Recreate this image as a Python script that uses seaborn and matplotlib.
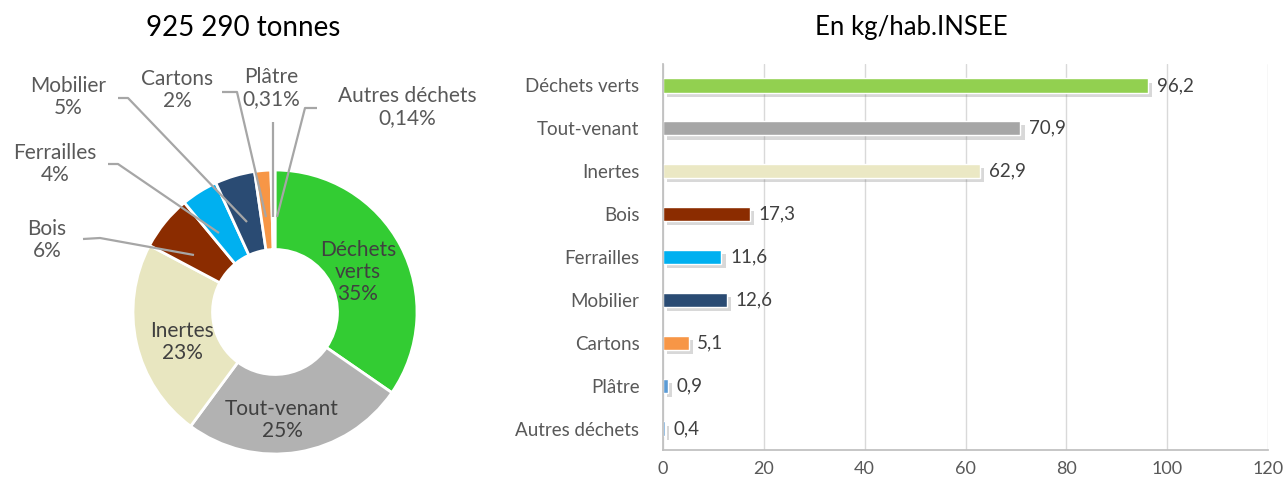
import matplotlib
matplotlib.use("Agg")
import matplotlib.pyplot as plt
import matplotlib.patheffects as pe
import seaborn as sns
import pandas as pd

# ---- data ----
categories = ["Déchets verts", "Tout-venant", "Inertes", "Bois", "Ferrailles",
              "Mobilier", "Cartons", "Plâtre", "Autres déchets"]
kg_per_hab = [96.2, 70.9, 62.9, 17.3, 11.6, 12.6, 5.1, 0.9, 0.4]
pct_labels = ["35%", "25%", "23%", "6%", "4%", "5%", "2%", "0,31%", "0,14%"]
value_labels = ["96,2", "70,9", "62,9", "17,3", "11,6", "12,6", "5,1", "0,9", "0,4"]
x_ticks = [0, 20, 40, 60, 80, 100, 120]
title_left = "925 290 tonnes"
title_right = "En kg/hab.INSEE"

pie_colors = ["#33CC33", "#B2B2B2", "#E8E6C0", "#8B2C00", "#00B0F0",
              "#2A4B73", "#F79646", "#D9D9D9", "#BFBFBF"]
bar_colors = ["#92D050", "#A6A6A6", "#EBE8C4", "#8B2C00", "#00B0F0",
              "#2A4B73", "#F79646", "#5B9BD5", "#5B9BD5"]

sns.set_theme(style="white")
plt.rcParams["font.family"] = ["Lato", "DejaVu Sans"]

W, H = 1284, 482
fig = plt.figure(figsize=(W / 100, H / 100), dpi=100)

def px_axes(cx, cy, r):
    return [(cx - r) / W, (H - cy - r) / H, 2 * r / W, 2 * r / H]

# ---- donut ----
cx, cy, R = 275, 312, 142
axp = fig.add_axes(px_axes(cx, cy, R))
wedges, _ = axp.pie(kg_per_hab, colors=pie_colors, startangle=90, counterclock=False,
                    radius=1.0,
                    wedgeprops=dict(width=0.56, edgecolor="white", linewidth=2))
axp.set_xlim(-1, 1)
axp.set_ylim(-1, 1)
axp.set_aspect("equal")
axp.axis("off")

def to_data(px, py):
    return ((px - cx) / R, -(py - cy) / R)

txt_col = "#404040"
fs = 15
# inner labels
inner = {0: (358, 272), 1: (282, 420), 2: (182, 342)}
inner_text = {0: "Déchets\nverts\n" + pct_labels[0],
              1: categories[1] + "\n" + pct_labels[1],
              2: categories[2] + "\n" + pct_labels[2]}
for i, (px, py) in inner.items():
    axp.text(*to_data(px, py), inner_text[i], ha="center", va="center",
             fontsize=fs, color=txt_col, linespacing=1.1)

# outer labels with leader lines: (label center, line points)
outer = {
    3: ((47, 240), [(83, 239), (100, 238), (194, 255)]),
    4: ((55, 164), [(108, 164), (118, 164), (219, 233)]),
    5: ((68, 97), [(118, 98), (128, 98), (247, 222)]),
    6: ((177, 90), [(222, 92), (237, 92), (266, 217)]),
    7: ((271, 88), [(273, 122), (273, 217)]),
    8: ((407, 107), [(317, 108), (305, 108), (277, 217)]),
}
for i, ((lx, ly), pts) in outer.items():
    name = "Autres déchets" if i == 8 else categories[i]
    axp.text(*to_data(lx, ly), name + "\n" + pct_labels[i], ha="center", va="center",
             fontsize=fs, color="#595959", linespacing=1.1)
    xs = [to_data(*p)[0] for p in pts]
    ys = [to_data(*p)[1] for p in pts]
    axp.plot(xs, ys, color="#A6A6A6", lw=1.6, clip_on=False, solid_capstyle="butt")

fig.text(243 / W, 1 - 28 / H, title_left, ha="center", va="center", fontsize=20, color="black")
fig.text(911 / W, 1 - 28 / H, title_right, ha="center", va="center", fontsize=18.5, color="black")

# ---- bar chart ----
left_px, right_px, top_px, bot_px = 663, 1268, 64, 450
axb = fig.add_axes([left_px / W, (H - bot_px) / H, (right_px - left_px) / W, (bot_px - top_px) / H])
df = pd.DataFrame({"cat": categories, "val": kg_per_hab})
sns.barplot(data=df, x="val", y="cat", hue="cat", palette=bar_colors, legend=False,
            width=0.33, orient="h", ax=axb, saturation=1)
for p in axb.patches:
    p.set_path_effects([pe.SimplePatchShadow(offset=(3, -3), shadow_rgbFace="#7f7f7f", alpha=0.3),
                        pe.Normal()])
axb.set_xlim(0, 120)
axb.set_xticks(x_ticks)
axb.set_xticklabels([str(t) for t in x_ticks])
axb.set_xlabel("")
axb.set_ylabel("")
axb.xaxis.grid(True, color="#D9D9D9", lw=1)
axb.set_axisbelow(True)
for s in ["top", "right"]:
    axb.spines[s].set_visible(False)
axb.spines["left"].set_color("#BFBFBF")
axb.spines["bottom"].set_color("#BFBFBF")
axb.tick_params(axis="both", length=0, colors="#595959")
for t in axb.get_yticklabels():
    t.set_fontsize(13.5)
for t in axb.get_xticklabels():
    t.set_fontsize(13)
axb.tick_params(axis="y", pad=17)
axb.tick_params(axis="x", pad=8)
for i, (v, lab) in enumerate(zip(kg_per_hab, value_labels)):
    axb.text(v + 1.7, i, lab, va="center", ha="left", fontsize=13.5, color="#404040")

fig.savefig("out.png", dpi=100)
